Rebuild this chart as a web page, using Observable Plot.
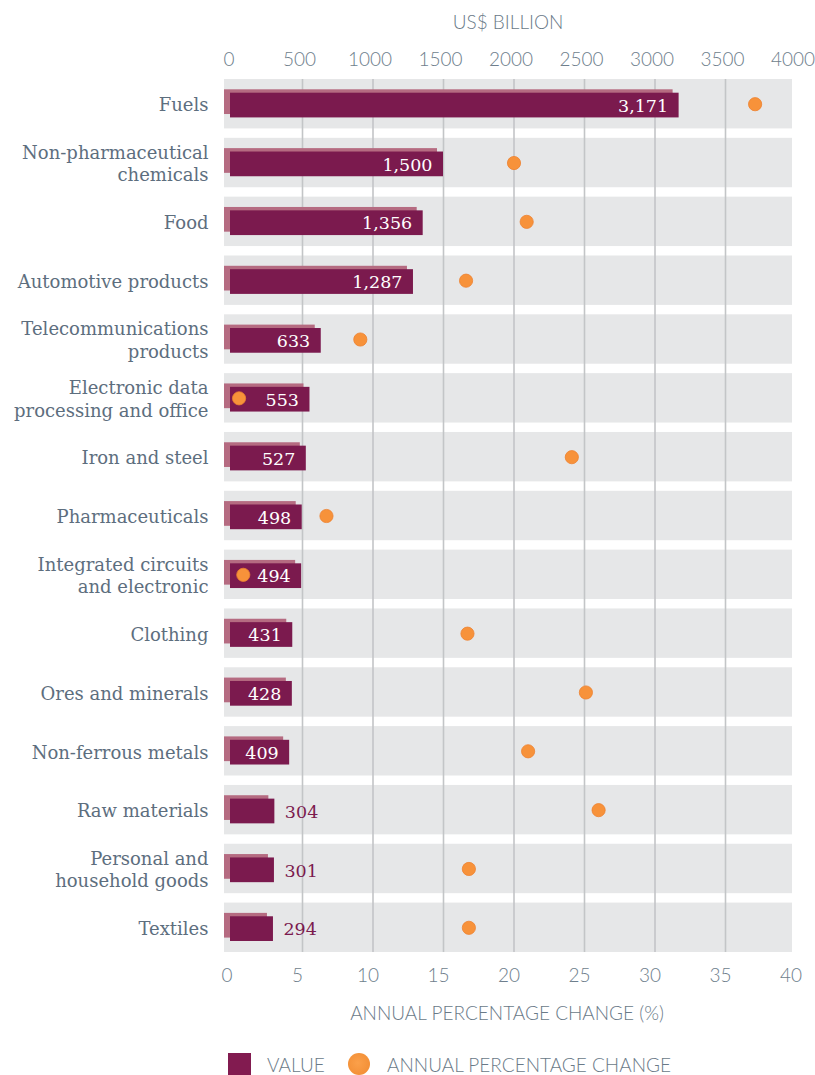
<!DOCTYPE html>
<html>
<head>
<meta charset="utf-8">
<script src="https://cdn.jsdelivr.net/npm/d3@7"></script>
<script src="https://cdn.jsdelivr.net/npm/@observablehq/plot@0.6"></script>
<style>
  html, body { margin: 0; padding: 0; background: #ffffff; }
  #wrap { position: relative; width: 815px; }
  #legend { position: relative; width: 815px; height: 35px; font-family: Lato, "Open Sans", sans-serif; font-weight: 300; color: #6a7a88; font-size: 19px; }
  #legend .sw { position: absolute; left: 228px; top: 13px; width: 23px; height: 23px; background: #821b50; }
  #legend .dt { position: absolute; left: 348px; top: 13px; width: 22px; height: 22px; border-radius: 50%; background: radial-gradient(circle at 45% 45%, #fba04a, #f08a30); }
  #legend .t1 { position: absolute; left: 267px; top: 14px; line-height: 22px; }
  #legend .t2 { position: absolute; left: 387px; top: 14px; line-height: 22px; }
</style>
</head>
<body>
<div id="wrap"></div>
<div id="legend">
  <div class="sw"></div><div class="t1">VALUE</div>
  <div class="dt"></div><div class="t2">ANNUAL PERCENTAGE CHANGE</div>
</div>
<script>
const categories = [
  "Fuels",
  "Non-pharmaceutical\nchemicals",
  "Food",
  "Automotive products",
  "Telecommunications\nproducts",
  "Electronic data\nprocessing and office",
  "Iron and steel",
  "Pharmaceuticals",
  "Integrated circuits\nand electronic",
  "Clothing",
  "Ores and minerals",
  "Non-ferrous metals",
  "Raw materials",
  "Personal and\nhousehold goods",
  "Textiles"
];
const values = [3171, 1500, 1356, 1287, 633, 553, 527, 498, 494, 431, 428, 409, 304, 301, 294];
const changes = [37.1, 20.0, 20.9, 16.6, 9.1, 0.5, 24.1, 6.7, 0.8, 16.7, 25.1, 21.0, 26.0, 16.8, 16.8];
const topTicks = [0, 500, 1000, 1500, 2000, 2500, 3000, 3500, 4000];
const bottomTicks = [0, 5, 10, 15, 20, 25, 30, 35, 40];
const gridTicks = [5, 10, 15, 20, 25, 30, 35];

const rows = categories.map((c, i) => ({cat: c, value: values[i], change: changes[i]}));
const fmt = d3.format(",");
const serif = "DejaVu Serif, serif";
const sans = "Lato, 'Open Sans', sans-serif";

const W = 815, H = 1040;
const PAD = 0.16;
const outer = 9.41; // outer padding in px (PAD * step)
const mTop = 79 - outer;
const mBottom = H - 952 - outer;
const plot = Plot.plot({
  width: W,
  height: H,
  marginLeft: 231.5,
  marginRight: 19.5,
  marginTop: mTop,
  marginBottom: mBottom,
  style: {background: "transparent", overflow: "visible"},
  x: {domain: [0, 40], axis: null},
  y: {domain: categories, axis: null, padding: PAD, round: false},
  marks: [
    // row bands
    Plot.barX(rows, {x1: 0, x2: 40, y: "cat", fill: "#e6e7e8", insetLeft: -7.5, insetRight: 3.5}),
    // gridlines
    Plot.ruleX(gridTicks, {stroke: "#c3c5c7", strokeWidth: 1.6, insetTop: outer, insetBottom: outer}),
    // 3D back face of value bars
    Plot.barX(rows, {x1: 0, x2: d => d.value / 100, y: "cat", fill: "#b56b81",
      insetTop: 13.7, insetBottom: 11, insetLeft: -1.5, dx: -6, dy: -3.4}),
    // front face of value bars
    Plot.barX(rows, {x1: 0, x2: d => d.value / 100, y: "cat", fill: "#7b1a4e",
      insetTop: 13.7, insetBottom: 11, insetLeft: -1.5}),
    // value labels inside
    Plot.text(rows.filter(d => d.value >= 400), {x: d => d.value / 100, y: "cat", text: d => fmt(d.value),
      textAnchor: "end", dx: -11, dy: 2, fill: "#ffffff", fontSize: 17.5, fontFamily: serif, fontWeight: 300}),
    // value labels outside
    Plot.text(rows.filter(d => d.value < 400), {x: d => d.value / 100, y: "cat", text: d => fmt(d.value),
      textAnchor: "start", dx: 10, dy: 2, fill: "#7b1a4e", fontSize: 17.5, fontFamily: serif, fontWeight: 300}),
    // annual change dots
    Plot.dot(rows, {x: "change", y: "cat", r: 6.6, fill: "#f7923a", stroke: "#ee8230", strokeWidth: 0.8}),
    // category labels
    Plot.text(rows, {x: 0, y: "cat", text: "cat", textAnchor: "end", dx: -23.5, dy: 0,
      fill: "#5d6e7e", fontSize: 18, fontFamily: serif, lineHeight: 1.25}),
    // top axis tick labels (US$ billion)
    Plot.text(topTicks, {x: d => d / 100, text: d => String(d), frameAnchor: "top", lineAnchor: "middle", dy: 59 - mTop, dx: -3,
      fill: "#6e7e8c", fontSize: 19, fontFamily: sans, fontWeight: 300}),
    // bottom axis tick labels (%)
    Plot.text(bottomTicks, {x: d => d, text: d => String(d), frameAnchor: "bottom", lineAnchor: "middle", dy: 975 - (H - mBottom), dx: -5,
      fill: "#6e7e8c", fontSize: 19, fontFamily: sans, fontWeight: 300}),
    // axis titles
    Plot.text(["US$ BILLION"], {frameAnchor: "top", lineAnchor: "middle", dy: 22 - mTop, dx: -6,
      fill: "#6a7a88", fontSize: 19, fontFamily: sans, fontWeight: 300}),
    Plot.text(["ANNUAL PERCENTAGE CHANGE (%)"], {frameAnchor: "bottom", lineAnchor: "middle", dy: 1013 - (H - mBottom), dx: -7,
      fill: "#6a7a88", fontSize: 19, fontFamily: sans, fontWeight: 300})
  ]
});
document.getElementById("wrap").appendChild(plot);
</script>
</body>
</html>
